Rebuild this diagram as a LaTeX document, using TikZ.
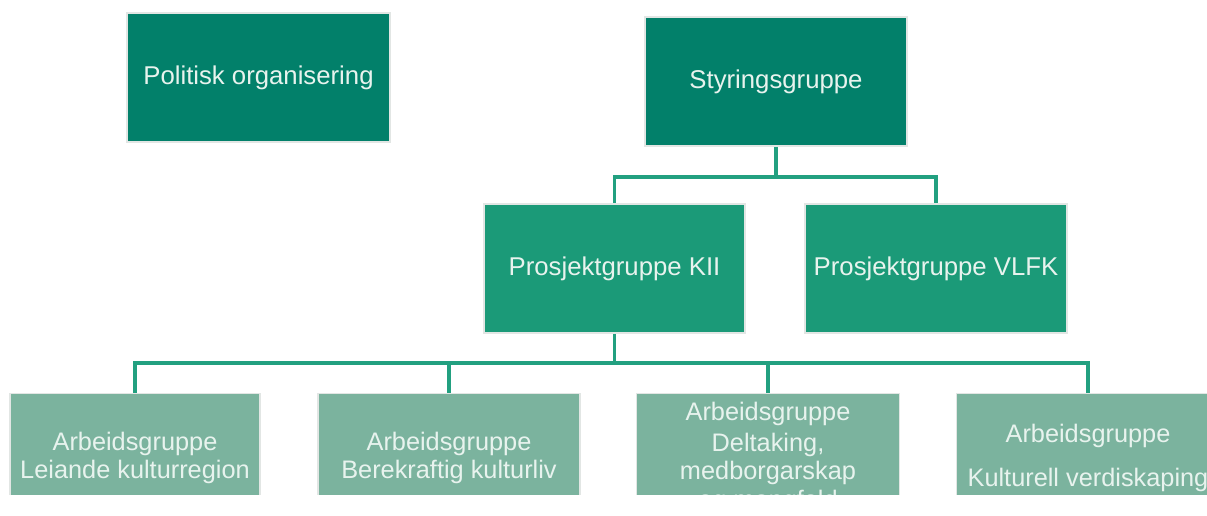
\documentclass[tikz,border=0pt]{standalone}
\usepackage{fontspec}
\setmainfont{Liberation Sans}
\definecolor{topgreen}{HTML}{02806A}
\definecolor{midgreen}{HTML}{1B9A78}
\definecolor{lowgreen}{HTML}{7BB39E}
\definecolor{linegreen}{HTML}{22A080}
\definecolor{txt}{HTML}{E8F3EE}
\definecolor{edge}{HTML}{E2E6E4}
\begin{document}
\begin{tikzpicture}[x=0.75pt,y=-0.75pt,
  box/.style={draw=edge,line width=1.2pt,text=txt,align=center,inner sep=0pt,
    minimum height=96.75pt,font=\fontsize{19.3}{19.5}\selectfont},
  topbox/.style={box,fill=topgreen},
  midbox/.style={box,fill=midgreen},
  lowbox/.style={box,fill=lowgreen,font=\fontsize{19}{21}\selectfont},
  conn/.style={draw=linegreen,line width=2.6pt}]
\useasboundingbox (0,0) rectangle (1207,515);
\begin{scope}
\clip (0,0) rectangle (1207,494);
\node[topbox,minimum width=197pt] (pol) at (258.5,77.5) {Politisk organisering};
\node[topbox,minimum width=196.5pt] (sty) at (776,81.5) {Styringsgruppe};
\node[midbox,minimum width=196pt] (kii) at (614.5,268.5) {Prosjektgruppe KII};
\node[midbox,minimum width=196.5pt] (vlfk) at (936,268.5) {Prosjektgruppe VLFK};
\node[lowbox,minimum width=187.5pt] (a1) at (135,458) {Arbeidsgruppe\\Leiande kulturregion};
\node[lowbox,minimum width=196.5pt] (a2) at (449,458) {Arbeidsgruppe\\Berekraftig kulturliv};
\node[lowbox,minimum width=197pt] (a3) at (768,458) {Arbeidsgruppe\\[2pt]Deltaking,\\medborgarskap\\[1pt]og mangfald};
\node[lowbox,minimum width=197pt] (a4) at (1088,458) {Arbeidsgruppe\\[12pt]Kulturell verdiskaping};
\coordinate (j1) at (776,177);
\coordinate (j2) at (614.5,363);
\draw[conn] (sty.south) -- (j1);
\draw[conn] (j1) -| (kii.north);
\draw[conn] (j1) -| (vlfk.north);
\draw[conn] (kii.south) -- (j2);
\draw[conn] (j2) -| (a1.north);
\draw[conn] (j2) -| (a2.north);
\draw[conn] (j2) -| (a3.north);
\draw[conn] (j2) -| (a4.north);
\end{scope}
\end{tikzpicture}
\end{document}
